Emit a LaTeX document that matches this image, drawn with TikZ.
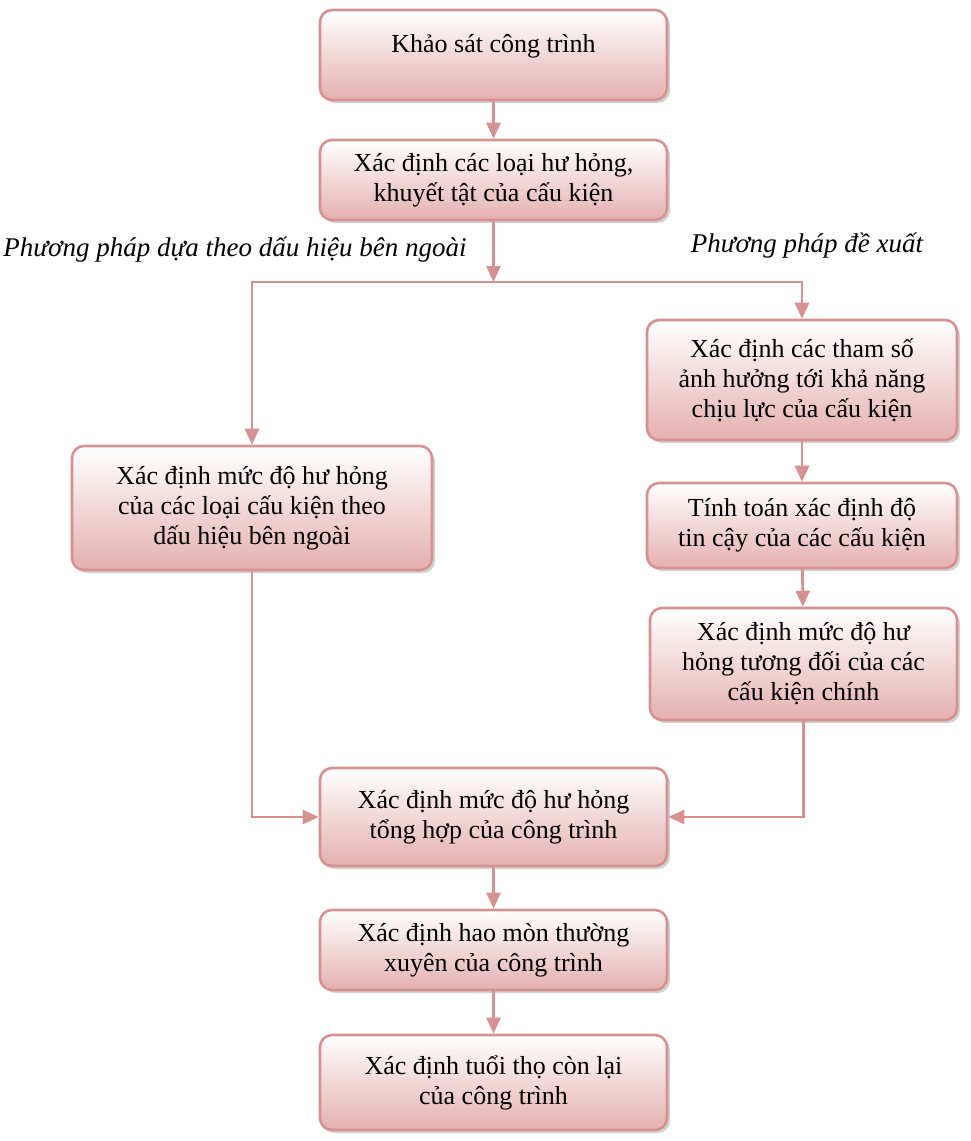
\documentclass[tikz,border=0pt]{standalone}
\usepackage{fontspec}
\setmainfont{Liberation Serif}
\usetikzlibrary{arrows.meta, positioning, shadows, calc}
\definecolor{boxline}{RGB}{214, 146, 144}
\definecolor{boxfill}{RGB}{228, 176, 175}
\definecolor{flowline}{RGB}{214, 146, 144}

\begin{document}
\begin{tikzpicture}[
    x=0.5pt, y=-0.5pt,
    process/.style={rectangle, rounded corners=6pt, align=center, draw=boxline, line width=1.3pt, top color=white, bottom color=boxfill, drop shadow={shadow xshift=1.5pt, shadow yshift=-1.5pt, fill=black!35}, font=\fontsize{13}{15}\selectfont},
    method/.style={font=\fontsize{13.5}{16}\selectfont\itshape},
    arrow/.style={line width=1.4pt, draw=flowline, -{Triangle[length=8pt, width=7pt]}},
    link/.style={line width=1.4pt, draw=flowline}
]
\useasboundingbox (0,0) rectangle (970,1141);

% main column
\node (survey) [process, minimum width=173.5pt, minimum height=45pt] at (493.5,55) {Khảo sát công trình\\[-3pt]};
\node (defects) [process, minimum width=173.5pt, minimum height=40pt] at (493.5,180) {Xác định các loại hư hỏng,\\khuyết tật của cấu kiện};
\coordinate (split) at (493.5,282);

% left branch
\node (visual) [process, minimum width=180pt, minimum height=62pt] at (252,508) {Xác định mức độ hư hỏng\\của các loại cấu kiện theo\\dấu hiệu bên ngoài};

% right branch
\node (params) [process, minimum width=155pt, minimum height=60pt] at (802,380) {Xác định các tham số\\ảnh hưởng tới khả năng\\chịu lực của cấu kiện};
\node (reliab) [process, minimum width=155pt, minimum height=42.5pt] at (802,525.5) {Tính toán xác định độ\\tin cậy của các cấu kiện};
\node (relative) [process, minimum width=153.5pt, minimum height=56pt] at (803.5,664) {Xác định mức độ hư\\hỏng tương đối của các\\cấu kiện chính};

% bottom part
\node (overall) [process, minimum width=173.5pt, minimum height=49pt] at (493.5,817) {Xác định mức độ hư hỏng\\tổng hợp của công trình};
\node (wear) [process, minimum width=173.5pt, minimum height=40pt] at (493.5,950) {Xác định hao mòn thường\\xuyên của công trình};
\node (life) [process, minimum width=173.5pt, minimum height=47.5pt] at (493.5,1082.5) {Xác định tuổi thọ còn lại\\của công trình};

\node (leftlabel) [method] at (235,250) {Phương pháp dựa theo dấu hiệu bên ngoài};
\node (rightlabel) [method] at (807,246) {Phương pháp đề xuất};

\draw [arrow] (survey) -- (defects);
\draw [arrow] (defects) -- (split);
\draw [link] ($(split)+(-1,0)$) -- (split);
\draw [arrow] (split) -| (visual);
\draw [arrow] (split) -| (params);
\draw [arrow] (params) -- (reliab);
\draw [arrow] (reliab) -- (relative);
\draw [arrow] (visual) |- (overall);
\draw [arrow] (relative) |- (overall);
\draw [arrow] (overall) -- (wear);
\draw [arrow] (wear) -- (life);

\end{tikzpicture}
\end{document}
